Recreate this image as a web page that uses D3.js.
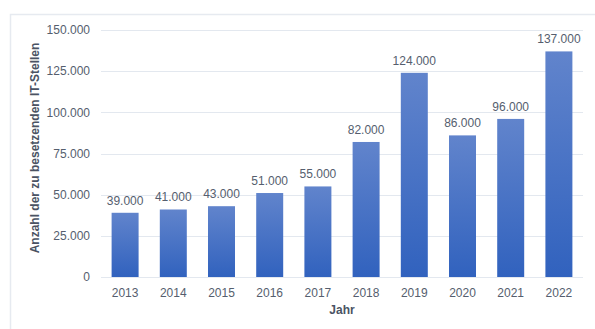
<!DOCTYPE html>
<html>
<head>
<meta charset="utf-8">
<script src="https://cdn.jsdelivr.net/npm/d3@7"></script>
<style>
  body { margin: 0; background: #fff; }
  text { font-family: "Liberation Sans", Arial, sans-serif; }
</style>
</head>
<body>
<div id="chart"></div>
<script>
const years = ["2013", "2014", "2015", "2016", "2017", "2018", "2019", "2020", "2021", "2022"];
const stellen = [39000, 41000, 43000, 51000, 55000, 82000, 124000, 86000, 96000, 137000];
const yTicks = [0, 25000, 50000, 75000, 100000, 125000, 150000];

const data = years.map((y, i) => ({ year: y, value: stellen[i] }));

const width = 595, height = 329;
const margin = { top: 30, left: 101, right: 12, bottom: 52 };

const svg = d3.select("#chart")
    .append("svg")
    .attr("width", width)
    .attr("height", height);

// panel frame (top + left)
svg.append("path")
    .attr("d", `M10.5,${height} V14.5 H${width}`)
    .attr("fill", "none")
    .attr("stroke", "#e6eaf0")
    .attr("stroke-width", 1.5);

const defs = svg.append("defs");
const grad = defs.append("linearGradient")
    .attr("id", "barGrad")
    .attr("x1", 0).attr("y1", 0).attr("x2", 0).attr("y2", 1);
grad.append("stop").attr("offset", "0%").attr("stop-color", "#6184cc");
grad.append("stop").attr("offset", "100%").attr("stop-color", "#3162be");

const x = d3.scaleBand()
    .domain(years)
    .range([margin.left, width - margin.right])
    .paddingInner(0.44)
    .paddingOuter(0.22);

const y = d3.scaleLinear()
    .domain([0, 150000])
    .range([height - margin.bottom, margin.top]);

const fmt = d => d3.format(",")(d).replace(/,/g, ".");

// gridlines
svg.append("g")
    .selectAll("line")
    .data(yTicks)
    .join("line")
    .attr("x1", margin.left)
    .attr("x2", width - margin.right)
    .attr("y1", d => Math.round(y(d)) + 0.5)
    .attr("y2", d => Math.round(y(d)) + 0.5)
    .attr("stroke", "#e3e8ef")
    .attr("stroke-width", 1);

// y tick labels
svg.append("g")
    .selectAll("text")
    .data(yTicks)
    .join("text")
    .attr("x", 90)
    .attr("y", d => y(d))
    .attr("dy", "0.35em")
    .attr("text-anchor", "end")
    .attr("fill", "#555e6e")
    .attr("font-size", "12px")
    .text(fmt);

// bars
svg.append("g")
    .selectAll("rect")
    .data(data)
    .join("rect")
    .attr("x", d => x(d.year))
    .attr("y", d => y(d.value))
    .attr("width", x.bandwidth())
    .attr("height", d => y(0) - y(d.value))
    .attr("fill", "url(#barGrad)");

// value labels
svg.append("g")
    .selectAll("text")
    .data(data)
    .join("text")
    .attr("x", d => x(d.year) + x.bandwidth() / 2)
    .attr("y", d => y(d.value) - 8)
    .attr("text-anchor", "middle")
    .attr("fill", "#555e6e")
    .attr("font-size", "12px")
    .text(d => fmt(d.value));

// x tick labels
svg.append("g")
    .selectAll("text")
    .data(years)
    .join("text")
    .attr("x", d => x(d) + x.bandwidth() / 2)
    .attr("y", y(0) + 20)
    .attr("text-anchor", "middle")
    .attr("fill", "#555e6e")
    .attr("font-size", "12px")
    .text(d => d);

// axis titles
svg.append("text")
    .attr("x", (margin.left + width - margin.right) / 2)
    .attr("y", 314)
    .attr("text-anchor", "middle")
    .attr("fill", "#4a5363")
    .attr("font-size", "12px")
    .attr("font-weight", "bold")
    .text("Jahr");

svg.append("text")
    .attr("transform", "translate(39,148) rotate(-90)")
    .attr("text-anchor", "middle")
    .attr("fill", "#4a5363")
    .attr("font-size", "12px")
    .attr("font-weight", "bold")
    .text("Anzahl der zu besetzenden IT-Stellen");
</script>
</body>
</html>
